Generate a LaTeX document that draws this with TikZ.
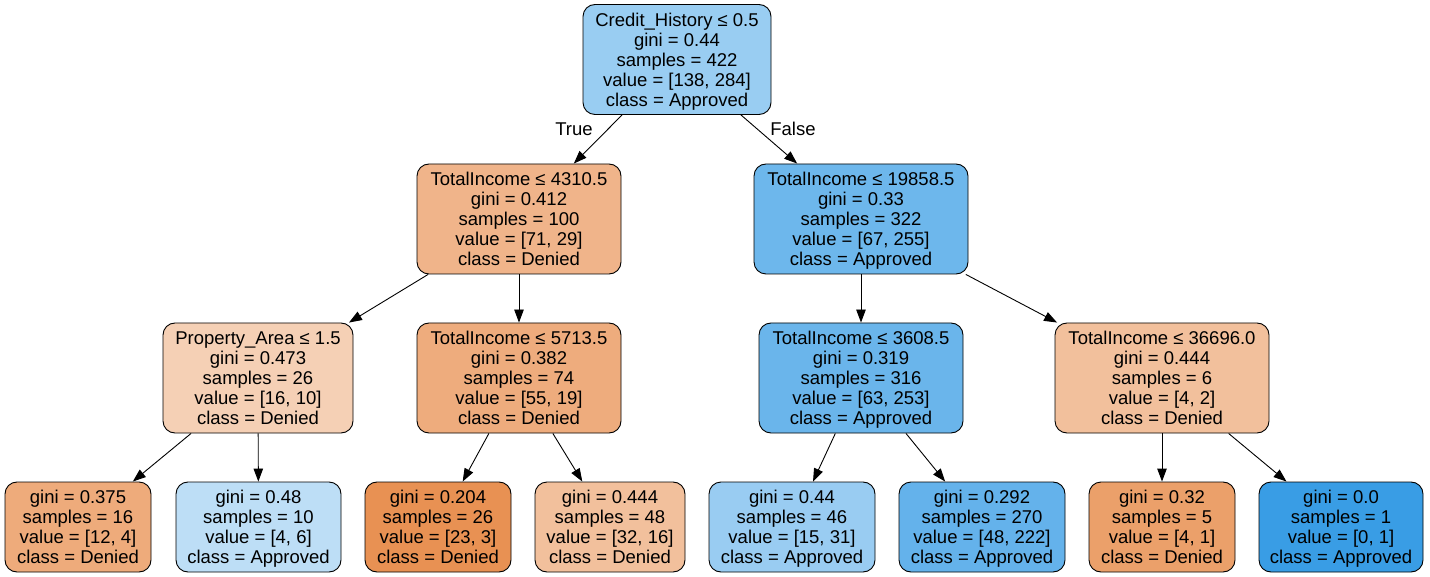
\documentclass[tikz,border=0pt]{standalone}
\usepackage{fontspec}
\setmainfont{Liberation Sans}
\usetikzlibrary{arrows.meta}

% node fill colours: orange = Denied, blue = Approved, paler = less pure
\definecolor{nRoot}{RGB}{153,205,242}
\definecolor{nA}{RGB}{240,180,138}
\definecolor{nB}{RGB}{109,183,236}
\definecolor{nC}{RGB}{245,208,181}
\definecolor{nD}{RGB}{238,172,125}
\definecolor{nE}{RGB}{106,181,235}
\definecolor{nF}{RGB}{242,192,156}
\definecolor{lA}{RGB}{238,171,123}
\definecolor{lB}{RGB}{189,222,246}
\definecolor{lC}{RGB}{232,145,83}
\definecolor{lD}{RGB}{242,192,156}
\definecolor{lE}{RGB}{153,204,242}
\definecolor{lF}{RGB}{100,178,235}
\definecolor{lG}{RGB}{235,160,106}
\definecolor{lH}{RGB}{57,157,229}

\tikzset{
  treenode/.style={draw=black, line width=0.9pt, rounded corners=12pt,
    inner sep=0pt, align=center, text depth=0pt,
    font=\fontsize{18.5}{20}\selectfont},
  split/.style={treenode, minimum height=110pt},
  leafnode/.style={treenode, minimum height=90pt},
  edge/.style={line width=0.9pt, -{Triangle[length=13pt,width=9.5pt]}},
  edgelabel/.style={font=\fontsize{18.5}{20}\selectfont, inner sep=0pt}
}

\begin{document}
\begin{tikzpicture}[x=1pt,y=-1pt]
\useasboundingbox (0,0) rectangle (1430,577);

% level 0
\node[split, fill=nRoot, minimum width=188pt] (root) at (677,59.5)
  {Credit\_History ≤ 0.5\\gini = 0.44\\samples = 422\\value = [138, 284]\\class = Approved};

% level 1
\node[split, fill=nA, minimum width=204pt] (a) at (519,219)
  {TotalIncome ≤ 4310.5\\gini = 0.412\\samples = 100\\value = [71, 29]\\class = Denied};
\node[split, fill=nB, minimum width=214pt] (b) at (861,219)
  {TotalIncome ≤ 19858.5\\gini = 0.33\\samples = 322\\value = [67, 255]\\class = Approved};

% level 2
\node[split, fill=nC, minimum width=190pt] (c) at (258,378)
  {Property\_Area ≤ 1.5\\gini = 0.473\\samples = 26\\value = [16, 10]\\class = Denied};
\node[split, fill=nD, minimum width=204pt] (d) at (519,378)
  {TotalIncome ≤ 5713.5\\gini = 0.382\\samples = 74\\value = [55, 19]\\class = Denied};
\node[split, fill=nE, minimum width=204pt] (e) at (861,378)
  {TotalIncome ≤ 3608.5\\gini = 0.319\\samples = 316\\value = [63, 253]\\class = Approved};
\node[split, fill=nF, minimum width=214pt] (f) at (1162,378)
  {TotalIncome ≤ 36696.0\\gini = 0.444\\samples = 6\\value = [4, 2]\\class = Denied};

% leaves
\node[leafnode, fill=lA, minimum width=146pt] (l1) at (78,527)
  {gini = 0.375\\samples = 16\\value = [12, 4]\\class = Denied};
\node[leafnode, fill=lB, minimum width=165pt] (l2) at (258.5,527)
  {gini = 0.48\\samples = 10\\value = [4, 6]\\class = Approved};
\node[leafnode, fill=lC, minimum width=146pt] (l3) at (438,527)
  {gini = 0.204\\samples = 26\\value = [23, 3]\\class = Denied};
\node[leafnode, fill=lD, minimum width=150pt] (l4) at (610,527)
  {gini = 0.444\\samples = 48\\value = [32, 16]\\class = Denied};
\node[leafnode, fill=lE, minimum width=166pt] (l5) at (792,527)
  {gini = 0.44\\samples = 46\\value = [15, 31]\\class = Approved};
\node[leafnode, fill=lF, minimum width=166pt] (l6) at (982,527)
  {gini = 0.292\\samples = 270\\value = [48, 222]\\class = Approved};
\node[leafnode, fill=lG, minimum width=146pt] (l7) at (1162,527)
  {gini = 0.32\\samples = 5\\value = [4, 1]\\class = Denied};
\node[leafnode, fill=lH, minimum width=164pt] (l8) at (1341,527)
  {gini = 0.0\\samples = 1\\value = [0, 1]\\class = Approved};

% connectors
\draw[edge] (root) -- (a);
\draw[edge] (root) -- (b);
\draw[edge] (a) -- (c);
\draw[edge] (a) -- (d);
\draw[edge] (b) -- (e);
\draw[edge] (b) -- (f);
\draw[edge] (c) -- (l1);
\draw[edge] (c) -- (l2);
\draw[edge] (d) -- (l3);
\draw[edge] (d) -- (l4);
\draw[edge] (e) -- (l5);
\draw[edge] (e) -- (l6);
\draw[edge] (f) -- (l7);
\draw[edge] (f) -- (l8);

% branch labels
\node[edgelabel] (ltrue) at (574,129) {True};
\node[edgelabel] (lfalse) at (793,129) {False};
\end{tikzpicture}
\end{document}
